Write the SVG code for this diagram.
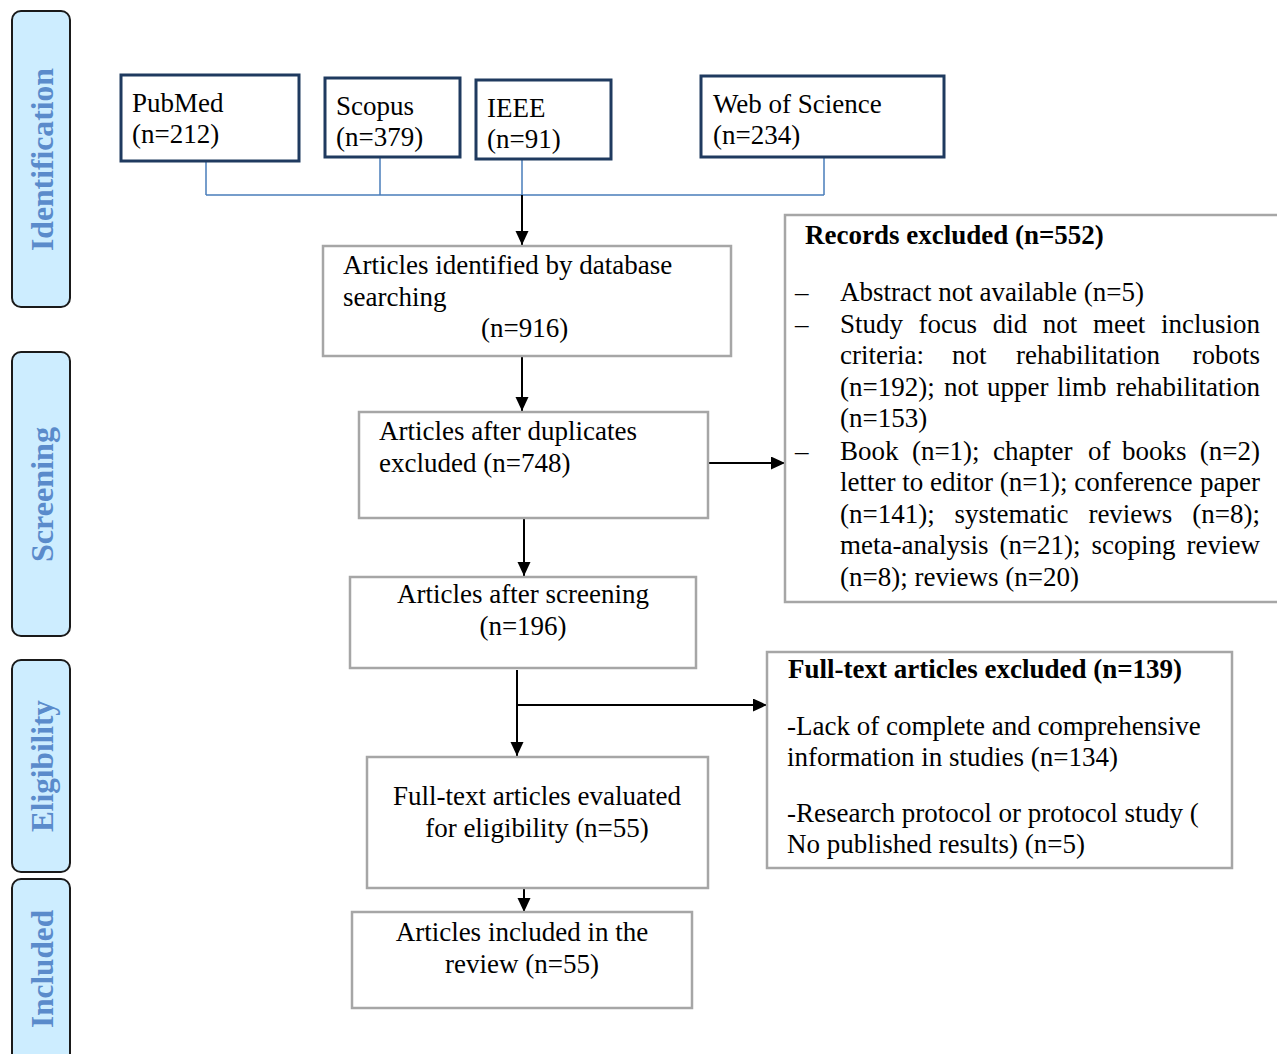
<svg xmlns="http://www.w3.org/2000/svg" width="1277" height="1054" viewBox="0 0 1277 1054">
<style>
text{font-family:"Liberation Serif","Times New Roman",serif;font-size:27px;fill:#000}
.b{font-weight:bold}
.e{text-anchor:end}
.side rect{fill:#cdedff;stroke:#1a1a1a;stroke-width:2}
.side text{font-weight:bold;font-size:31px;fill:#5a8bcb}
.src{fill:#fff;stroke:#1f3a5f;stroke-width:3}
.box{fill:#fff;stroke:#a6a6a6;stroke-width:2.5}
.blue{stroke:#4a7ebb;stroke-width:1.5;fill:none}
.arr{stroke:#000;stroke-width:2;fill:none;marker-end:url(#ah)}
</style>
<defs>
<marker id="ah" markerUnits="userSpaceOnUse" markerWidth="15" markerHeight="14" refX="14" refY="6.5" orient="auto">
<path d="M0,0 L14,6.5 L0,13 z" fill="#000"/>
</marker>
</defs>
<rect width="1277" height="1054" fill="#fff"/>

<g id="stage-identification" class="side">
<rect x="12" y="11" width="58" height="296" rx="9"/>
<text transform="translate(43,159.5) rotate(-90)" y="10" text-anchor="middle" textLength="183" lengthAdjust="spacingAndGlyphs">Identification</text>
</g>
<g id="stage-screening" class="side">
<rect x="12" y="352" width="58" height="284" rx="9"/>
<text transform="translate(43,494.5) rotate(-90)" y="10" text-anchor="middle" textLength="135" lengthAdjust="spacingAndGlyphs">Screening</text>
</g>
<g id="stage-eligibility" class="side">
<rect x="12" y="660" width="58" height="212" rx="9"/>
<text transform="translate(43,766) rotate(-90)" y="10" text-anchor="middle" textLength="132" lengthAdjust="spacingAndGlyphs">Eligibility</text>
</g>
<g id="stage-included" class="side">
<rect x="12" y="879" width="58" height="200" rx="9"/>
<text transform="translate(43,969) rotate(-90)" y="10" text-anchor="middle" textLength="118" lengthAdjust="spacingAndGlyphs">Included</text>
</g>

<g id="connectors">
<path class="blue" d="M206,149 V195 M380,157 V195 M522,159 V195 M824,148 V195 M206,195 H824"/>
<path class="arr" d="M522,195 V245"/>
<path class="arr" d="M522,356 V411"/>
<path class="arr" d="M708,463 H785"/>
<path class="arr" d="M524,518 V576"/>
<path class="arr" d="M517,670 V756"/>
<path class="arr" d="M517,705 H767"/>
<path class="arr" d="M524,880 V912"/>
</g>

<g id="pubmed">
<rect class="src" x="121" y="75" width="178" height="86"/>
<text x="132" y="112">PubMed</text>
<text x="132" y="143">(n=212)</text>
</g>
<g id="scopus">
<rect class="src" x="325" y="78" width="135" height="79"/>
<text x="336" y="115">Scopus</text>
<text x="336" y="146">(n=379)</text>
</g>
<g id="ieee">
<rect class="src" x="476" y="80" width="135" height="79"/>
<text x="487" y="117">IEEE</text>
<text x="487" y="148">(n=91)</text>
</g>
<g id="wos">
<rect class="src" x="701" y="76" width="243" height="81"/>
<text x="713" y="113">Web of Science</text>
<text x="713" y="144">(n=234)</text>
</g>

<g id="identified">
<rect class="box" x="323" y="246" width="408" height="110"/>
<text x="343" y="274">Articles identified by database</text>
<text x="343" y="306">searching</text>
<text x="481" y="337">(n=916)</text>
</g>

<g id="duplicates">
<rect class="box" x="359" y="412" width="349" height="106"/>
<text x="379" y="440">Articles after duplicates</text>
<text x="379" y="472">excluded (n=748)</text>
</g>

<g id="records-excluded">
<rect class="box" x="785" y="215" width="510" height="387"/>
<text class="b" x="805" y="244">Records excluded (n=552)</text>
<text x="795" y="301">–</text>
<text x="795" y="333">–</text>
<text x="795" y="460">–</text>
<text x="840" y="301">Abstract not available (n=5)</text>
<text y="333"><tspan x="840">Study</tspan><tspan x="918.6">focus</tspan><tspan x="992.7">did</tspan><tspan x="1042.8">not</tspan><tspan x="1092.9">meet</tspan><tspan class="e" x="1260">inclusion</tspan></text>
<text y="364"><tspan x="840">criteria:</tspan><tspan x="952.1">not</tspan><tspan x="1016">rehabilitation</tspan><tspan class="e" x="1260">robots</tspan></text>
<text y="396"><tspan x="840">(n=192);</tspan><tspan x="944">not</tspan><tspan x="987">upper</tspan><tspan x="1057">limb</tspan><tspan class="e" x="1260">rehabilitation</tspan></text>
<text x="840" y="427">(n=153)</text>
<text y="460"><tspan x="840">Book</tspan><tspan x="911.9">(n=1);</tspan><tspan x="993.1">chapter</tspan><tspan x="1088">of</tspan><tspan x="1122">books</tspan><tspan class="e" x="1260">(n=2)</tspan></text>
<text y="491"><tspan x="840">letter to editor (n=1); conference</tspan><tspan class="e" x="1260">paper</tspan></text>
<text y="523"><tspan x="840">(n=141);</tspan><tspan x="954.6">systematic</tspan><tspan x="1088.4">reviews</tspan><tspan class="e" x="1260">(n=8);</tspan></text>
<text y="554"><tspan x="840">meta-analysis</tspan><tspan x="999.4">(n=21);</tspan><tspan x="1091.6">scoping</tspan><tspan class="e" x="1260">review</tspan></text>
<text x="840" y="586">(n=8); reviews (n=20)</text>
</g>

<g id="screened">
<rect class="box" x="350" y="577" width="346" height="91"/>
<text x="523" y="603" text-anchor="middle">Articles after screening</text>
<text x="523" y="635" text-anchor="middle">(n=196)</text>
</g>

<g id="fulltext-excluded">
<rect class="box" x="767" y="652" width="465" height="216"/>
<text class="b" x="788" y="678">Full-text articles excluded (n=139)</text>
<text x="787" y="735">-Lack of complete and comprehensive</text>
<text x="787" y="766">information in studies (n=134)</text>
<text x="787" y="822">-Research protocol or protocol study (</text>
<text x="787" y="853">No published results) (n=5)</text>
</g>

<g id="eligibility">
<rect class="box" x="367" y="757" width="341" height="131"/>
<text x="537" y="805" text-anchor="middle">Full-text articles evaluated</text>
<text x="537" y="837" text-anchor="middle">for eligibility (n=55)</text>
</g>

<g id="included">
<rect class="box" x="352" y="912" width="340" height="96"/>
<text x="522" y="941" text-anchor="middle">Articles included in the</text>
<text x="522" y="973" text-anchor="middle">review (n=55)</text>
</g>
</svg>
